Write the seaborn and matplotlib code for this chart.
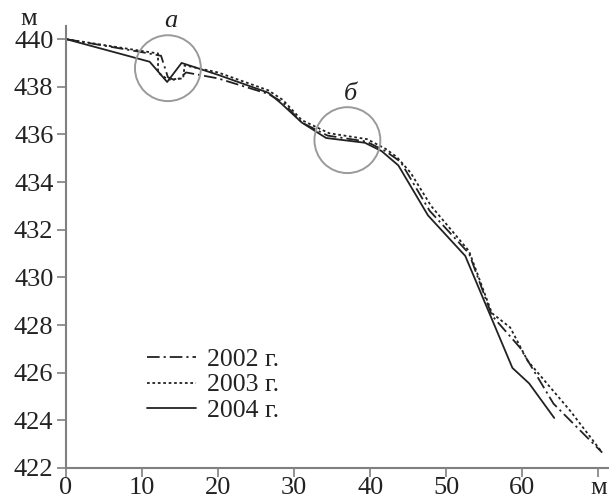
import matplotlib
matplotlib.use("Agg")
import matplotlib.pyplot as plt
import seaborn as sns
import pandas as pd

# ---- data ----
x2002 = [0, 10, 12.5, 13.4, 14.5, 15.8, 20, 26.6, 28.5, 31, 34.4, 39.5, 42, 44, 47.8, 53, 56, 59.7, 64.1, 70.5]
y2002 = [440, 439.45, 439.3, 438.4, 438.25, 438.6, 438.35, 437.7, 437.35, 436.5, 435.95, 435.7, 435.3, 434.85, 432.8, 431.0, 428.4, 427.05, 424.7, 422.65]

x2003 = [0, 10, 12.1, 12.1, 13.4, 15.4, 15.6, 20, 26.6, 28.5, 31, 34.6, 39.6, 42, 43.5, 45.3, 48, 53, 56, 58.4, 60.7, 66.3, 70.5]
y2003 = [440, 439.5, 439.4, 438.6, 438.3, 438.35, 438.9, 438.6, 437.85, 437.45, 436.6, 436.05, 435.8, 435.4, 435.05, 434.4, 433.0, 431.1, 428.5, 427.9, 426.5, 424.4, 422.65]

x2004 = [0, 11, 13.3, 15.2, 20, 26.6, 28.3, 31, 34.2, 39.3, 41.5, 43.7, 47.6, 52.5, 58.7, 60.9, 64.2]
y2004 = [440, 439.05, 438.2, 439.0, 438.5, 437.75, 437.3, 436.5, 435.85, 435.65, 435.3, 434.7, 432.6, 430.9, 426.2, 425.55, 424.1]

series_labels = ["2002 г.", "2003 г.", "2004 г."]
xticks = [0, 10, 20, 30, 40, 50, 60, 70]
xtick_labels = ["0", "10", "20", "30", "40", "50", "60", "м"]
yticks = [422, 424, 426, 428, 430, 432, 434, 436, 438, 440]
circle_x = [13.4, 37.0]
circle_y = [438.78, 435.76]
circle_labels = ["a", "б"]
circle_label_x = [13.8, 37.4]
circle_label_y = [440.5, 437.44]

sns.set_style("white")
plt.rcParams["font.family"] = ["Liberation Serif", "DejaVu Serif"]

fig = plt.figure(figsize=(6.09, 5.03), dpi=100)
ax = fig.add_axes([66 / 609, 35 / 503, 543 / 609, 442 / 503])

ink = "#222222"
styles = [(0, (7, 2.2, 1.2, 2.2)), (0, (1.5, 1.5)), "-"]
for xs, ys, lab, ls in zip([x2002, x2003, x2004], [y2002, y2003, y2004], series_labels, styles):
    df = pd.DataFrame({"x": xs, "y": ys})
    sns.lineplot(data=df, x="x", y="y", ax=ax, sort=False, estimator=None,
                 color=ink, linewidth=1.3, linestyle=ls, label=lab)

ax.scatter(circle_x, circle_y, s=2250, facecolors="none", edgecolors="#9a9a9a",
           linewidths=1.4, zorder=5)
for cx, cy, t in zip(circle_label_x, circle_label_y, circle_labels):
    ax.text(cx, cy, t, ha="center", va="baseline", fontsize=19, style="italic", color=ink)

ax.set_xlim(0, 71.4)
ax.set_ylim(422, 440.55)
ax.set_xticks(xticks)
ax.set_xticklabels(xtick_labels)
ax.set_yticks(yticks)
ax.set_xlabel("")
ax.set_ylabel("")

for s in ["top", "right"]:
    ax.spines[s].set_visible(False)
for s in ["left", "bottom"]:
    ax.spines[s].set_color("#808080")
    ax.spines[s].set_linewidth(1.5)
ax.tick_params(axis="both", which="major", direction="out", length=6.5, width=1.2,
               color="#808080", labelsize=19, labelcolor=ink, left=True, bottom=True)
ax.tick_params(axis="y", pad=2.5)
ax.tick_params(axis="x", pad=0)

fig.text(29 / 609, 1 - 25 / 503, "м", ha="center", va="baseline", fontsize=19, color=ink)

leg = ax.legend(loc="center left", bbox_to_anchor=((147 - 66) / 543, (468 - 385) / 442),
                frameon=False, fontsize=18.5, handlelength=1.9, handletextpad=0.45,
                labelspacing=0.1, borderpad=0, borderaxespad=0)
for t in leg.get_texts():
    t.set_color(ink)

fig.savefig("out.png", dpi=100)
